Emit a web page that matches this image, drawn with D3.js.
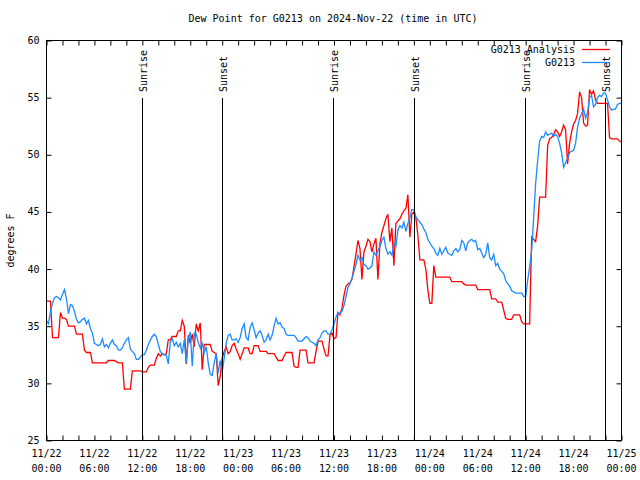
<!DOCTYPE html>
<html>
<head>
<meta charset="utf-8">
<script src="https://cdn.jsdelivr.net/npm/d3@7"></script>
<style>
  html, body { margin: 0; padding: 0; background: #fff; }
  svg { display: block; }
  text { font-family: "DejaVu Sans Mono", "Liberation Mono", monospace; font-size: 10px; fill: #000; }
</style>
</head>
<body>
<svg id="chart" width="640" height="480"></svg>
<script>
// ---- data ----
const title = "Dew Point for G0213 on 2024-Nov-22 (time in UTC)";
const yLabel = "degrees F";
const seriesNames = ["G0213 Analysis", "G0213"];
const startTime = "2024-11-22T00:00:00Z";
const endTime = "2024-11-25T00:00:00Z";
const stepMinutes = 15; // sampling interval of the values below
const yTicks = [25, 30, 35, 40, 45, 50, 55, 60];

// G0213 Analysis (red), every 15 minutes from 11/22 00:00 UTC
const analysisValues = [
  37.2,37.2,37.2,34.0,34.0,34.0,34.0,36.2,35.7,35.7,35.6,35.0,
  35.0,35.0,35.0,34.3,34.3,34.3,34.3,32.9,32.7,32.7,32.7,31.8,
  31.8,31.8,31.8,31.8,31.8,31.8,31.8,32.0,32.0,32.0,32.0,31.9,
  31.8,31.8,31.8,29.5,29.5,29.5,29.5,31.1,31.1,31.1,31.1,31.1,
  31.0,31.0,31.0,31.4,31.6,31.6,31.6,32.2,32.6,32.4,32.6,32.5,
  32.6,33.8,33.8,34.1,34.1,34.1,34.6,34.6,35.5,35.0,31.7,34.2,
  33.5,34.3,33.2,35.2,34.6,35.3,31.2,33.4,33.4,33.4,33.4,32.8,
  32.7,32.6,29.8,30.6,32.2,32.8,33.2,32.6,32.8,33.3,33.5,33.0,
  32.6,32.1,32.6,33.1,33.1,33.1,32.6,32.6,33.3,33.3,33.3,32.8,
  32.8,32.8,32.8,32.6,32.6,32.6,32.6,32.3,32.0,32.0,32.0,32.4,
  32.7,32.7,32.7,32.7,31.5,31.4,31.4,32.9,32.9,32.9,32.9,31.8,
  31.8,31.8,31.8,32.8,33.7,33.7,33.7,33.0,32.4,32.4,34.2,34.4,
  33.9,34.0,36.2,36.0,36.6,37.7,38.5,38.7,38.8,39.1,40.2,41.3,
  42.5,41.8,39.1,41.5,42.0,42.6,42.4,41.5,42.2,42.7,39.1,42.2,
  43.2,43.8,44.4,44.8,42.4,43.6,40.3,44.0,44.2,44.4,44.8,45.1,
  45.3,46.5,42.8,44.8,45.0,44.5,43.0,40.8,40.8,40.8,40.0,38.2,
  37.0,37.0,40.3,39.3,39.3,39.3,39.3,39.3,39.3,39.3,39.3,38.9,
  38.9,38.9,38.9,38.9,38.9,38.7,38.6,38.6,38.6,38.6,38.6,38.6,
  38.2,38.2,38.2,38.2,38.2,38.2,38.2,37.4,37.4,37.4,37.1,37.1,
  37.1,36.4,35.7,35.6,35.6,35.6,36.0,36.0,36.0,36.0,35.4,35.2,
  35.2,35.2,35.2,42.8,42.6,42.4,43.8,46.3,46.3,46.3,46.3,50.8,
  51.4,51.5,51.8,52.2,52.0,51.6,52.0,52.6,52.2,49.2,51.0,52.0,
  52.7,53.0,53.6,55.5,55.0,52.8,52.5,52.6,55.7,55.3,55.6,54.8,
  54.5,54.5,54.5,54.5,54.5,54.5,51.5,51.4,51.4,51.4,51.4,51.2,
  51.1
];

// G0213 observations (blue), every 15 minutes from 11/22 00:00 UTC
const stationValues = [
  35.5,35.2,36.3,37.0,37.5,37.6,37.5,37.3,37.8,38.2,37.4,36.1,
  36.9,36.8,36.3,35.6,35.3,35.4,35.6,35.7,35.2,35.5,34.8,34.4,
  33.5,33.4,33.3,33.4,33.9,33.2,33.4,33.1,33.5,33.8,33.4,33.3,
  32.9,32.9,33.1,33.5,33.8,34.0,33.0,32.8,32.6,32.1,32.1,32.3,
  32.5,32.5,32.9,33.4,33.8,34.1,34.3,34.1,33.4,32.8,32.6,32.5,
  32.5,31.7,33.6,33.9,33.3,33.6,33.2,33.5,32.6,33.8,31.8,33.9,
  34.5,31.5,34.4,34.3,33.6,33.1,33.5,32.7,33.2,31.8,30.8,30.7,
  31.8,32.6,30.9,32.0,31.0,32.2,33.5,34.2,34.3,33.8,33.8,33.9,
  33.6,34.0,34.8,35.2,34.0,33.8,34.9,35.3,34.7,34.0,34.4,34.6,
  34.2,33.6,33.8,34.3,33.8,34.2,35.0,35.7,35.2,35.3,34.9,34.8,
  34.3,34.2,34.2,34.2,34.2,34.0,33.7,33.7,33.7,33.9,34.1,34.0,
  33.7,33.6,33.5,33.3,33.8,34.0,34.4,34.6,34.6,34.3,34.3,34.7,
  35.2,35.8,36.2,36.1,36.3,36.8,37.6,38.4,38.7,39.2,39.8,40.4,
  41.2,40.8,41.0,40.4,40.3,40.0,40.1,40.3,41.5,41.2,41.6,42.0,
  42.5,42.8,41.8,41.3,41.5,41.2,42.3,42.0,43.4,43.8,43.6,44.1,
  43.3,44.0,44.5,45.2,45.2,44.6,44.3,44.1,43.9,43.5,43.2,42.6,
  42.3,42.0,41.8,41.4,41.2,41.8,41.3,41.6,41.9,41.4,41.3,41.2,
  41.6,41.8,41.5,41.7,42.5,42.3,41.6,42.3,42.5,42.6,42.4,42.5,
  41.7,41.8,41.4,41.0,41.3,42.3,41.0,40.8,41.3,40.3,40.5,40.0,
  39.8,39.6,39.0,38.7,38.5,38.1,38.0,37.9,37.9,37.9,37.9,37.6,
  37.6,39.0,40.2,41.6,44.5,47.5,49.5,51.2,51.6,51.5,52.0,51.7,
  51.8,51.9,51.6,51.8,51.6,51.0,50.2,48.9,49.3,49.7,50.2,50.3,
  50.4,51.0,52.4,53.2,53.6,54.0,53.2,53.7,55.0,55.2,54.2,54.4,
  55.0,55.2,55.1,55.4,55.4,54.8,54.2,53.9,54.0,54.0,54.4,54.5,
  54.5
];

// Sun events (UTC)
const eventTimes = [
  "2024-11-22T11:55:00Z", "2024-11-22T22:02:00Z",
  "2024-11-23T11:56:00Z", "2024-11-23T22:01:00Z",
  "2024-11-24T11:57:00Z", "2024-11-24T21:58:00Z"
];
const eventLabels = ["Sunrise", "Sunset", "Sunrise", "Sunset", "Sunrise", "Sunset"];
const seriesColors = ["#ff0000", "#1a8cff"];

// ---- drawing ----
const svg = d3.select("#chart");
const L = 46.5, R = 621.5, T = 40.5, B = 440.5;

const t0 = new Date(startTime);
const x = d3.scaleUtc().domain([t0, new Date(endTime)]).range([L, R]);
const y = d3.scaleLinear().domain([25, 60]).range([B, T]);

const toPoints = vals => vals.map((v, i) => ({ t: new Date(+t0 + i * stepMinutes * 60000), v }));

// title
svg.append("text").attr("x", (L + R) / 2 - 1).attr("y", 22).attr("text-anchor", "middle").text(title);

// y label
svg.append("text")
  .attr("transform", `translate(10,${(T + B) / 2}) rotate(-90)`)
  .attr("text-anchor", "middle").attr("dy", "0.35em").text(yLabel);

// axes ticks (inward, mirrored)
const tickTimes = d3.utcHour.every(2).range(x.domain()[0], new Date(+x.domain()[1] + 1));
const axStyle = g => { g.select(".domain").remove(); g.selectAll("line").attr("stroke", "#000"); g.selectAll("text").remove(); };

svg.append("g").attr("transform", `translate(0,${B})`)
  .call(d3.axisBottom(x).tickValues(tickTimes).tickSize(-5).tickSizeOuter(0)).call(axStyle);
svg.append("g").attr("transform", `translate(0,${T})`)
  .call(d3.axisTop(x).tickValues(tickTimes).tickSize(-5).tickSizeOuter(0)).call(axStyle);
svg.append("g").attr("transform", `translate(${L},0)`)
  .call(d3.axisLeft(y).tickValues(yTicks).tickSize(-5).tickSizeOuter(0)).call(axStyle);
svg.append("g").attr("transform", `translate(${R},0)`)
  .call(d3.axisRight(y).tickValues(yTicks).tickSize(-5).tickSizeOuter(0)).call(axStyle);

// y tick labels
svg.append("g").selectAll("text").data(yTicks).join("text")
  .attr("x", L - 7).attr("y", d => y(d)).attr("dy", "0.35em")
  .attr("text-anchor", "end").text(d => d);

// x tick labels (every 6h)
const labelTimes = d3.utcHour.every(6).range(x.domain()[0], new Date(+x.domain()[1] + 1));
const fmtDate = d3.utcFormat("%m/%d"), fmtTime = d3.utcFormat("%H:%M");
const xl = svg.append("g").selectAll("text").data(labelTimes).join("text")
  .attr("text-anchor", "middle");
xl.append("tspan").attr("x", d => x(d)).attr("y", 457).text(d => fmtDate(d));
xl.append("tspan").attr("x", d => x(d)).attr("y", 472).text(d => fmtTime(d));

// data lines
const line = d3.line().x(d => x(d.t)).y(d => y(d.v));
svg.append("path").datum(toPoints(analysisValues))
  .attr("fill", "none").attr("stroke", seriesColors[0]).attr("stroke-width", 1.3).attr("d", line);
svg.append("path").datum(toPoints(stationValues))
  .attr("fill", "none").attr("stroke", seriesColors[1]).attr("stroke-width", 1.3).attr("d", line);

// sun event lines
const ev = svg.append("g").selectAll("g").data(eventTimes.map((t, i) => ({ t: new Date(t), label: eventLabels[i] }))).join("g");
ev.append("line")
  .attr("x1", d => Math.round(x(d.t)) + 0.5).attr("x2", d => Math.round(x(d.t)) + 0.5)
  .attr("y1", 98).attr("y2", B).attr("stroke", "#000").attr("stroke-width", 1);
ev.append("text")
  .attr("transform", d => `translate(${Math.round(x(d.t)) + 1},92) rotate(-90)`)
  .attr("text-anchor", "start").attr("dy", "0.35em").text(d => d.label);

// frame
svg.append("rect").attr("x", L).attr("y", T).attr("width", R - L).attr("height", B - T)
  .attr("fill", "none").attr("stroke", "#000").attr("stroke-width", 1);

// legend
const legendData = seriesNames.map((name, i) => ({ name, color: seriesColors[i], i }));
const lg = svg.append("g").selectAll("g").data(legendData).join("g")
  .attr("transform", d => `translate(0,${49 + d.i * 13})`);
lg.append("text").attr("x", 575).attr("dy", "0.35em").attr("text-anchor", "end").text(d => d.name);
lg.append("line").attr("x1", 582).attr("x2", 610).attr("y1", 0.5).attr("y2", 0.5)
  .attr("stroke", d => d.color).attr("stroke-width", 1.3);
</script>
</body>
</html>
